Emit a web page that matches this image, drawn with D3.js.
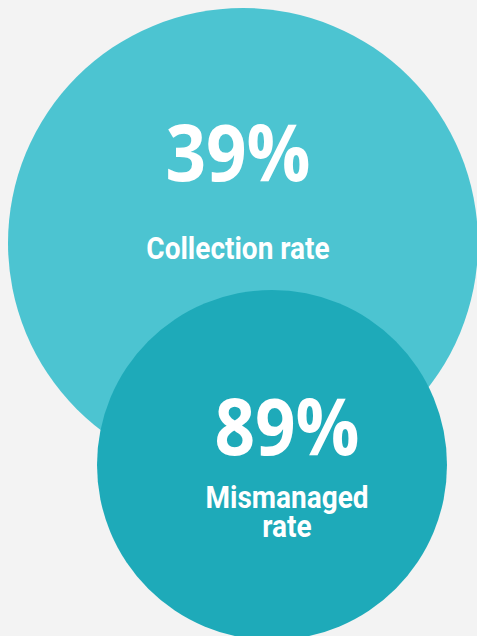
<!DOCTYPE html>
<html>
<head>
<meta charset="utf-8">
<script src="https://cdn.jsdelivr.net/npm/d3@7"></script>
<style>
  html, body { margin: 0; padding: 0; background: #f3f3f3; }
  svg { display: block; }
</style>
</head>
<body>
<div id="chart"></div>
<script>
// chart values
var categories = ["Collection rate", "Mismanaged rate"];
var values = [39, 89];
var labelLines = [["Collection rate"], ["Mismanaged", "rate"]];

function init() {
    var w = 477;
    var h = 636;

    var svg = d3.select("#chart")
                .append("svg")
                .attr("width", w)
                .attr("height", h);

    // light photo-ish background
    svg.append("rect")
       .attr("width", w)
       .attr("height", h)
       .attr("fill", "#f3f3f3");

    // layout for each bubble (not sized by value in the original)
    var cx = d3.scaleOrdinal().domain(categories).range([243, 272]);
    var cy = d3.scaleOrdinal().domain(categories).range([243, 465]);
    var r = d3.scaleOrdinal().domain(categories).range([235, 175]);
    var color = d3.scaleOrdinal().domain(categories).range(["#4cc4d1", "#1eaab9"]);

    // where the text sits inside each bubble
    var tx = d3.scaleOrdinal().domain(categories).range([238, 287]);
    var numY = d3.scaleOrdinal().domain(categories).range([181, 455]);
    var labY = d3.scaleOrdinal().domain(categories).range([259, 508]);

    var fmt = function(v) { return v + "%"; };

    var g = svg.selectAll("g.bubble")
               .data(categories)
               .enter()
               .append("g")
               .attr("class", "bubble");

    g.append("circle")
     .attr("cx", d => cx(d))
     .attr("cy", d => cy(d))
     .attr("r", d => r(d))
     .attr("fill", d => color(d));

    g.append("text")
     .attr("transform", d => "translate(" + tx(d) + "," + numY(d) + ") scale(1,1.1)")
     .attr("text-anchor", "middle")
     .attr("fill", "#fff")
     .style("font-family", "'Open Sans', sans-serif")
     .style("font-weight", 700)
     .style("font-size", "71px")
     .text((d, i) => fmt(values[i]));

    // labels, second one wraps onto two lines
    g.each(function(d, i) {
        var t = d3.select(this).append("text")
                  .attr("transform", "translate(" + tx(d) + "," + labY(d) + ") scale(1,1.1)")
                  .attr("text-anchor", "middle")
                  .attr("fill", "#fff")
                  .style("font-family", "Roboto, sans-serif")
                  .style("font-weight", 700)
                  .style("font-size", "28px");
        t.selectAll("tspan")
         .data(labelLines[i])
         .enter()
         .append("tspan")
         .attr("x", 0)
         .attr("dy", (s, j) => j === 0 ? 0 : 26.5)
         .text(s => s);
    });
}

window.onload = init;
</script>
</body>
</html>
